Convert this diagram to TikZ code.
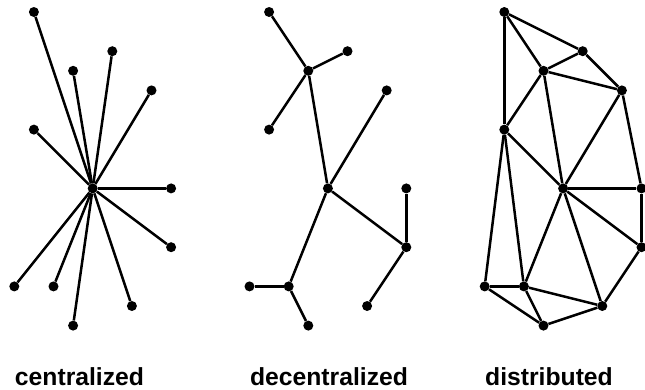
\documentclass[tikz,border=0pt]{standalone}
\usepackage{fontspec}
\setmainfont{Liberation Sans}
\begin{document}
\begin{tikzpicture}[x=1pt,y=-1pt,
  dot/.style={circle,fill=black,inner sep=0pt,minimum size=10pt},
  link/.style={line width=2.5pt},
  lbl/.style={anchor=base,inner sep=0pt,font=\fontsize{24.7}{30}\selectfont\bfseries}]
\useasboundingbox (0,0) rectangle (645,389);
\foreach \p/\ox in {c/0,d/235.2,s/470.4}{
  \foreach \n/\gx/\gy in {A/1/0,B/5/2,C/3/3,D/7/4,E/1/6,O/4/9,F/8/9,G/8/12,H/0/14,I/2/14,J/6/15,K/3/16}{
    \node[dot] (\p\n) at ({\ox+14.3+19.6*\gx},{12+19.6*\gy}) {};
  }
}
% centralized
\foreach \t in {A,B,C,D,E,F,G,H,I,J,K}
  \draw[link] (cO) -- (c\t);
% decentralized
\foreach \a/\b in {A/C,B/C,E/C,C/O,D/O,O/G,F/G,G/J,O/I,H/I,I/K}
  \draw[link] (d\a) -- (d\b);
% distributed
\foreach \a/\b in {A/B,A/C,A/E,B/C,B/D,C/D,C/E,C/O,D/O,D/F,E/O,E/H,E/I,O/F,F/G,O/G,O/J,O/I,G/J,H/I,H/K,I/K,I/J,J/K}
  \draw[link] (s\a) -- (s\b);
\node[lbl] (t1) at (79.5,385) {centralized};
\node[lbl] (t2) at (329,385) {decentralized};
\node[lbl] (t3) at (549,385) {distributed};
\end{tikzpicture}
\end{document}
